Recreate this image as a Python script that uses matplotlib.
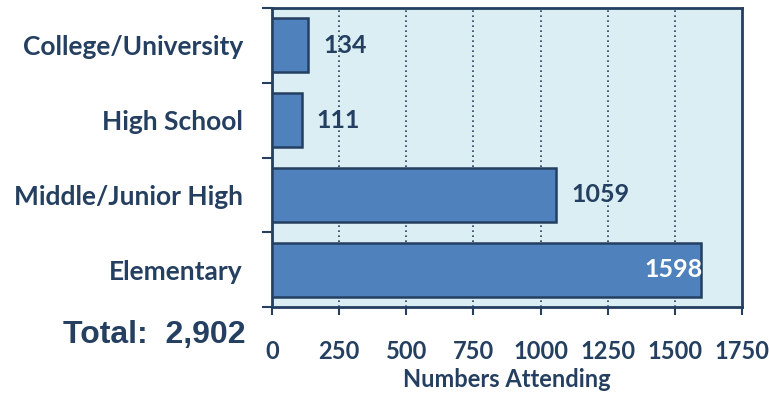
import matplotlib.pyplot as plt
import numpy as np

levels = ['Elementary', 'Middle/Junior High', 'High School', 'College/University']
attending = [1598, 1059, 111, 134]
x_ticks = [0, 250, 500, 750, 1000, 1250, 1500, 1750]
total_text = 'Total:  2,902'

navy = '#243F60'
bar_blue = '#4F81BD'
panel = '#DAEEF3'
font = ['Lato', 'DejaVu Sans']

fig = plt.figure(figsize=(7.69, 3.96), dpi=100)
ax = fig.add_axes([0.3537, 0.2247, 0.6112, 0.7551])
ax.set_facecolor(panel)

y = np.arange(len(levels))
ax.barh(y, attending, height=0.72, color=bar_blue, edgecolor=navy, linewidth=1.8, zorder=3)

ax.set_xlim(0, 1750)
ax.set_ylim(-0.5, len(levels) - 0.5)

# dotted gridlines
for v in x_ticks[1:-1]:
    ax.axvline(v, color=navy, linestyle=(0, (1, 2)), linewidth=1.2, zorder=1)

# value labels
for yi, v in zip(y, attending):
    if v > 1500:
        ax.text(v + 5, yi, str(v), ha='right', va='center', color='white',
                fontsize=18, fontweight='bold', family=font, zorder=4)
    else:
        ax.text(v + 56, yi, str(v), ha='left', va='center', color=navy,
                fontsize=18, fontweight='bold', family=font, zorder=4)

ax.set_xticks(x_ticks)
ax.set_xticklabels([str(t) for t in x_ticks], fontsize=17, fontweight='bold',
                   color=navy, family=font)
ax.tick_params(axis='x', direction='out', length=6, width=1.5, color=navy, pad=18)

ax.set_yticks(np.arange(-0.5, len(levels)))
ax.set_yticklabels([])
ax.tick_params(axis='y', which='major', direction='out', length=7, width=1.5, color=navy)
ax.set_yticks(y, minor=True)
ax.set_yticklabels(levels, minor=True, fontsize=19, fontweight='bold', color=navy, family=font)
ax.tick_params(axis='y', which='minor', length=0, pad=21)

for s in ax.spines.values():
    s.set_color(navy)
    s.set_linewidth(2)

ax.set_xlabel('Numbers Attending', fontsize=17, fontweight='bold', color=navy,
              family=font, labelpad=3)

fig.text(0.319, 0.154, total_text, ha='right', va='center', fontsize=23,
         fontweight='bold', color=navy, family=['Liberation Sans', 'DejaVu Sans'])

fig.savefig('out.png', dpi=100)
